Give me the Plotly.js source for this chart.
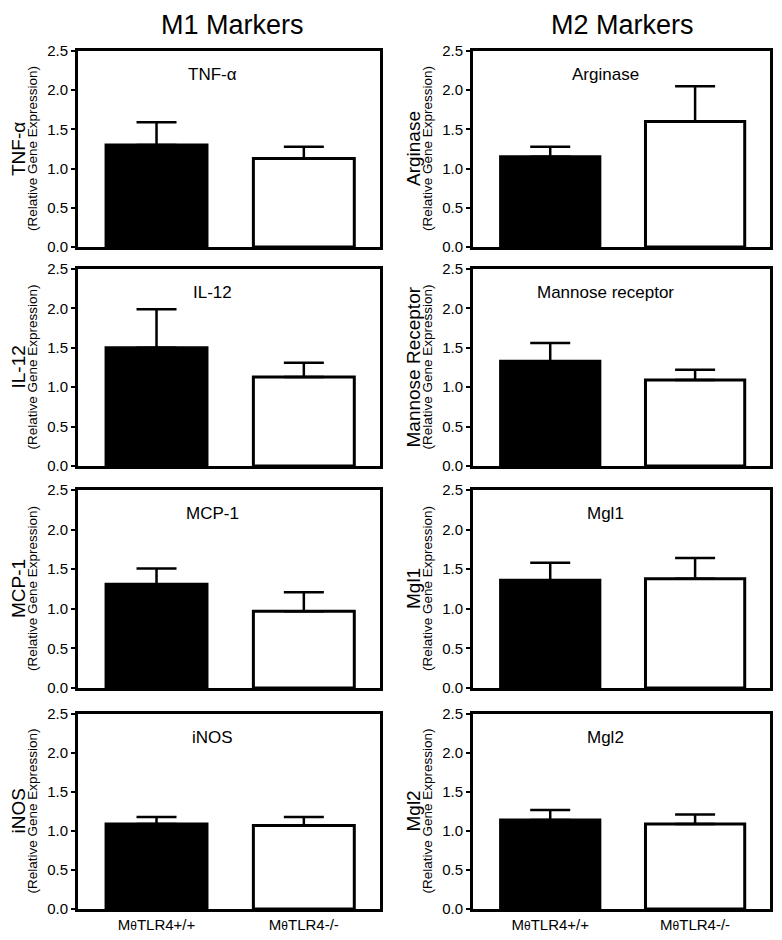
<!DOCTYPE html>
<html>
<head>
<meta charset="utf-8">
<script src="https://cdn.plot.ly/plotly-3.0.1.min.js"></script>
<style>
  html, body { margin: 0; padding: 0; background: #fff; }
  #chart { width: 782px; height: 940px; }
</style>
</head>
<body>
<div id="chart"></div>
<script>
// ---- Data ----
const groups = ['M\u03b8TLR4+/+', 'M\u03b8TLR4-/-'];

const m1Markers = ['TNF-\u03b1', 'IL-12', 'MCP-1', 'iNOS'];
const m1AxisLabels = ['TNF-\u03b1', 'IL-12', 'MCP-1', 'iNOS'];
const m1Wt = [1.30, 1.50, 1.31, 1.09];
const m1WtErr = [0.29, 0.49, 0.20, 0.09];
const m1Ko = [1.13, 1.13, 0.97, 1.07];
const m1KoErr = [0.15, 0.18, 0.24, 0.11];

const m2Markers = ['Arginase', 'Mannose receptor', 'Mgl1', 'Mgl2'];
const m2AxisLabels = ['Arginase', 'Mannose Receptor', 'Mgl1', 'Mgl2'];
const m2Wt = [1.15, 1.33, 1.36, 1.14];
const m2WtErr = [0.13, 0.23, 0.22, 0.13];
const m2Ko = [1.60, 1.09, 1.38, 1.09];
const m2KoErr = [0.45, 0.13, 0.26, 0.12];

const columnTitles = ['M1 Markers', 'M2 Markers'];
const subLabel = '(Relative Gene Expression)';
const yTicks = [0, 0.5, 1.0, 1.5, 2.0, 2.5];

// ---- Layout geometry (pixels of a 782x940 canvas) ----
const W = 782, H = 940;
const colPx = [[78, 380], [473, 770]];
const rowPx = [[51, 247], [269, 466], [490, 688], [714, 909]];
const bigLabelX = [18, 413];
const smallLabelX = [32, 427];
const headerX = [232, 622];

const FONT = 'Liberation Sans, Arial, sans-serif';
const groupTickText = groups.map(g => g.replace('\u03b8', '<span style="font-size:12px">\u03b8</span>'));
const traces = [];
const layout = {
  width: W, height: H,
  margin: {l: 0, r: 0, t: 0, b: 0},
  paper_bgcolor: '#fff', plot_bgcolor: '#fff',
  showlegend: false,
  font: {family: FONT, color: '#000'},
  annotations: []
};

const cols = [
  {markers: m1Markers, labels: m1AxisLabels, wt: m1Wt, wtE: m1WtErr, ko: m1Ko, koE: m1KoErr},
  {markers: m2Markers, labels: m2AxisLabels, wt: m2Wt, wtE: m2WtErr, ko: m2Ko, koE: m2KoErr}
];

for (let r = 0; r < 4; r++) {
  for (let c = 0; c < 2; c++) {
    const n = r * 2 + c + 1;
    const xa = n === 1 ? 'x' : 'x' + n;
    const ya = n === 1 ? 'y' : 'y' + n;
    const d = cols[c];
    traces.push({
      type: 'bar',
      x: groups,
      y: [d.wt[r], d.ko[r]],
      xaxis: xa, yaxis: ya,
      width: 0.685,
      marker: {color: ['#000000', '#ffffff'], line: {color: '#000', width: 3}},
      error_y: {
        type: 'data', symmetric: false,
        array: [d.wtE[r], d.koE[r]], arrayminus: [0, 0],
        color: '#000', thickness: 2.5, width: 20
      },
      hoverinfo: 'y'
    });
    const xKey = n === 1 ? 'xaxis' : 'xaxis' + n;
    const yKey = n === 1 ? 'yaxis' : 'yaxis' + n;
    layout[xKey] = {
      domain: [colPx[c][0] / W, colPx[c][1] / W],
      anchor: ya,
      type: 'category',
      range: [-0.533, 1.517],
      tickvals: groups,
      ticktext: groupTickText,
      showline: true, linecolor: '#000', linewidth: 3, mirror: true,
      showgrid: false, zeroline: false,
      ticks: '',
      showticklabels: r === 3,
      tickfont: {family: FONT, size: 15, color: '#000'}
    };
    layout[yKey] = {
      domain: [1 - rowPx[r][1] / H, 1 - rowPx[r][0] / H],
      anchor: xa,
      range: [0, 2.5],
      tickvals: yTicks,
      ticktext: yTicks.map(v => v.toFixed(1)),
      ticks: 'outside', ticklen: 4, tickwidth: 2, tickcolor: '#000',
      showline: true, linecolor: '#000', linewidth: 3, mirror: true,
      showgrid: false, zeroline: false,
      tickfont: {family: FONT, size: 15, color: '#000'}
    };
    // panel inner title
    layout.annotations.push({
      xref: xa + ' domain', yref: ya + ' domain',
      x: 0.445, y: 0.88, xanchor: 'center', yanchor: 'middle',
      text: d.markers[r], showarrow: false,
      font: {family: FONT, size: 17, color: '#000'}
    });
    // y axis labels (big + small line)
    layout.annotations.push({
      xref: 'paper', yref: ya + ' domain',
      x: bigLabelX[c] / W, y: 0.5, xanchor: 'center', yanchor: 'middle',
      textangle: -90, text: d.labels[r], showarrow: false,
      font: {family: FONT, size: 19, color: '#000'}
    });
    layout.annotations.push({
      xref: 'paper', yref: ya + ' domain',
      x: smallLabelX[c] / W, y: 0.5, xanchor: 'center', yanchor: 'middle',
      textangle: -90, text: subLabel, showarrow: false,
      font: {family: FONT, size: 13.5, color: '#000'}
    });
  }
}

for (let c = 0; c < 2; c++) {
  layout.annotations.push({
    xref: 'paper', yref: 'paper',
    x: headerX[c] / W, y: 1 - 25 / H, xanchor: 'center', yanchor: 'middle',
    text: columnTitles[c], showarrow: false,
    font: {family: FONT, size: 27, color: '#000'}
  });
}

Plotly.newPlot('chart', traces, layout, {displayModeBar: false, staticPlot: true});
</script>
</body>
</html>
